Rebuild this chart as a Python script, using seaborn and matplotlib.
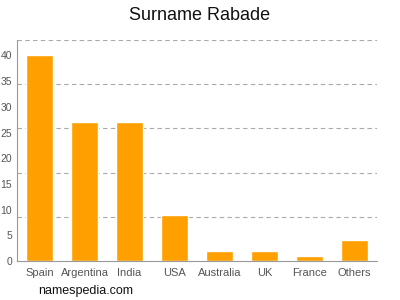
import matplotlib
matplotlib.use("Agg")
import matplotlib.pyplot as plt
import seaborn as sns
import pandas as pd

countries = ["Spain", "Argentina", "India", "USA", "Australia", "UK", "France", "Others"]
counts = [40, 27, 27, 9, 2, 2, 1, 4]
yticks = [0, 5, 10, 15, 20, 25, 30, 35, 40]

sns.set_style("white")
plt.rcParams['font.family'] = ['Liberation Sans', 'DejaVu Sans']

df = pd.DataFrame({"country": countries, "count": counts})

fig = plt.figure(figsize=(4, 3), dpi=100)
ax = fig.add_axes([0.0425, 0.13, 0.9, 0.7367])
sns.barplot(data=df, x="country", y="count", color="#FFA000", saturation=1, width=0.62, ax=ax)

ymax = 43
ax.set_ylim(0, ymax)
ax.set_xlim(-0.5, len(countries) - 0.5)
ax.set_yticks(yticks)
for k in range(1, 6):
    ax.axhline(ymax * k / 5, color="#aaaaaa", linestyle=(0, (4, 3)), linewidth=0.8, zorder=0)

ax.set_xlabel("")
ax.set_ylabel("")
for s in ["top", "right"]:
    ax.spines[s].set_visible(False)
for s in ["left", "bottom"]:
    ax.spines[s].set_color("#999999")
    ax.spines[s].set_linewidth(0.8)
ax.tick_params(axis="x", colors="#999999", labelcolor="#555555", labelsize=8, length=3, width=0.8, pad=2)
ax.tick_params(axis="y", colors="#999999", labelcolor="#555555", labelsize=7.5, length=3, width=0.8, pad=0.5)

fig.text(0.5, 0.95, "Surname Rabade", ha="center", va="center", fontsize=13, color="#111111")
fig.text(0.095, 0.03, "namespedia.com", ha="left", va="center", fontsize=9, color="#111111")

fig.savefig("out.png", dpi=100)
